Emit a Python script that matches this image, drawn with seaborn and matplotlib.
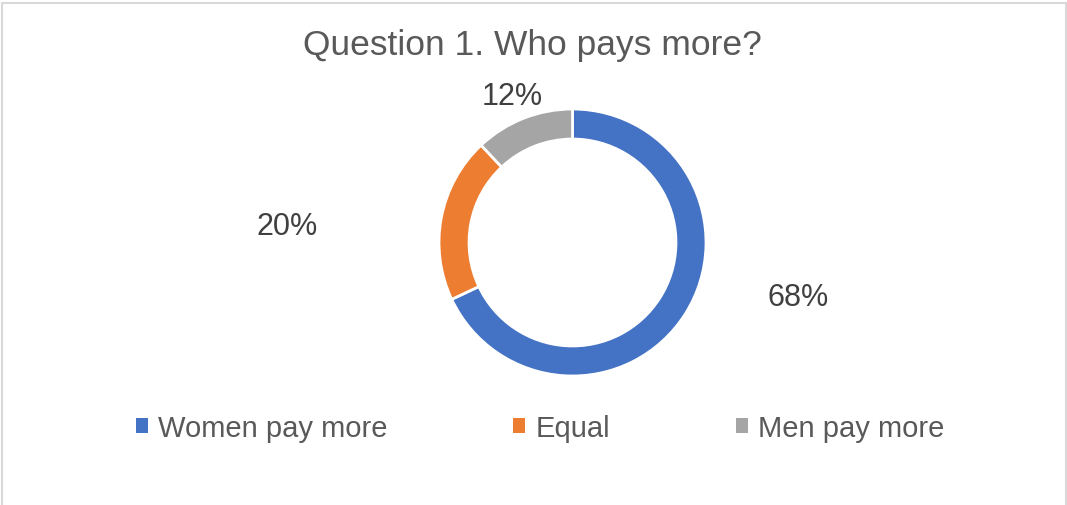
import matplotlib
matplotlib.use("Agg")
import matplotlib.pyplot as plt
from matplotlib.patches import Patch, Rectangle
import seaborn as sns

# Survey answers
categories = ["Women pay more", "Equal", "Men pay more"]
shares = [68, 20, 12]
label_texts = ["68%", "20%", "12%"]
colors = ["#4472C4", "#ED7D31", "#A5A5A5"]

# Label anchors in ring-radius units (relative to donut centre)
label_pos = [(1.69, -0.41), (-2.14, 0.12), (-0.45, 1.10)]

sns.set_theme(style="white")
plt.rcParams["font.family"] = ["Liberation Sans", "DejaVu Sans"]
palette = sns.color_palette(colors)
text_color = "#595959"
label_color = "#404040"

W, H = 1067, 506
fig = plt.figure(figsize=(W / 100, H / 100), dpi=100)
fig.patch.set_facecolor("white")

# Chart-area frame (bottom edge runs off the canvas)
fig.patches.append(Rectangle((2 / W, -0.05), (1064) / W, 1.05 - 4 / H,
                             transform=fig.transFigure, fill=False,
                             edgecolor="#D9D9D9", linewidth=1.5))

# Square axes centred on the donut
cx, cy, r_px = 572.5, H - 243.5, 133.5
half = 150
ax = fig.add_axes([(cx - half) / W, (cy - half) / H, 2 * half / W, 2 * half / H])

wedges, _ = ax.pie(shares, colors=palette, startangle=90, counterclock=False,
                   radius=1.0,
                   wedgeprops=dict(width=0.225, edgecolor="white", linewidth=2))

lim = half / r_px
ax.set_xlim(-lim, lim)
ax.set_ylim(-lim, lim)
ax.set_aspect("equal")
ax.axis("off")

for txt, (lx, ly) in zip(label_texts, label_pos):
    ax.text(lx, ly, txt, ha="center", va="center", fontsize=22,
            color=label_color, clip_on=False)

fig.text(532 / W, 1 - 46 / H, "Question 1. Who pays more?", ha="center",
         va="center", fontsize=25.5, color=text_color)

handles = [Patch(facecolor=c, edgecolor="none") for c in palette]
leg = fig.legend(handles, categories, loc="center", ncol=3,
                 bbox_to_anchor=(540 / W, 1 - 429 / H), frameon=False,
                 fontsize=21, handlelength=0.42, handleheight=0.42,
                 handletextpad=0.35, columnspacing=4.3)
for t in leg.get_texts():
    t.set_color(text_color)

fig.savefig("out.png", dpi=100, facecolor="white")
